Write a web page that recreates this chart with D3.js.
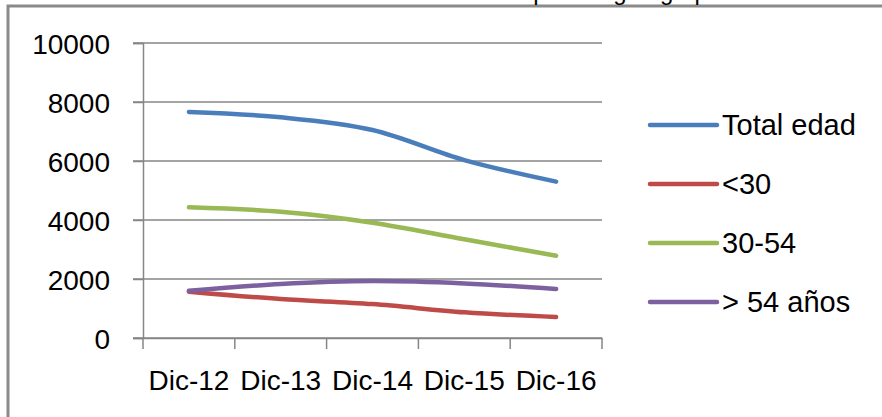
<!DOCTYPE html>
<html>
<head>
<meta charset="utf-8">
<script src="https://cdn.jsdelivr.net/npm/d3@7"></script>
<style>
  html, body { margin: 0; padding: 0; background: #fff; }
  svg { display: block; }
  text { font-family: "Liberation Sans", Arial, sans-serif; fill: #000; }
</style>
</head>
<body>
<svg id="chart" width="882" height="417"></svg>
<script>
const title = "Gráfico 6. Cotizantes medios en paro según grupo de edad";
const categories = ["Dic-12", "Dic-13", "Dic-14", "Dic-15", "Dic-16"];
const seriesNames = ["Total edad", "<30", "30-54", "> 54 años"];
const totalEdad = [7660, 7480, 7050, 6030, 5300];
const menos30 = [1570, 1320, 1150, 870, 710];
const de30a54 = [4430, 4280, 3910, 3345, 2790];
const mas54 = [1600, 1830, 1930, 1850, 1660];
const yTicks = [0, 2000, 4000, 6000, 8000, 10000];
const colors = ["#4a7ebb", "#be4b48", "#98b954", "#7d60a0"];

const series = [totalEdad, menos30, de30a54, mas54].map((vals, i) => ({
  name: seriesNames[i], color: colors[i], values: vals
}));

const svg = d3.select("#chart");

// outer frame
svg.append("rect")
  .attr("x", 8).attr("y", 6).attr("width", 900).attr("height", 430)
  .attr("fill", "none").attr("stroke", "#8a8a8a").attr("stroke-width", 3);

// title, cut at the top edge as in the source image
svg.append("text")
  .attr("x", 185).attr("y", 0)
  .attr("font-size", 24)
  .attr("fill", "#000")
  .text(title);

const x = d3.scaleBand().domain(categories).range([143, 602]).padding(0);
const y = d3.scaleLinear().domain([0, 10000]).range([338, 43]);

const gridColor = "#868686";

// gridlines
svg.append("g").selectAll("line").data(yTicks).join("line")
  .attr("x1", 133).attr("x2", 602)
  .attr("y1", d => y(d)).attr("y2", d => y(d))
  .attr("stroke", gridColor).attr("stroke-width", 1.5);

// y axis
const yAxis = svg.append("g").attr("transform", "translate(143,0)")
  .call(d3.axisLeft(y).tickValues(yTicks).tickSize(10).tickPadding(23).tickFormat(d3.format("d")));
yAxis.select(".domain").attr("stroke", gridColor).attr("stroke-width", 1.5);
yAxis.selectAll(".tick line").attr("stroke", gridColor).attr("stroke-width", 1.5);
yAxis.selectAll("text").attr("font-size", 28).attr("fill", "#000")
  .attr("font-family", "Liberation Sans, Arial, sans-serif").attr("dy", "0.36em");

// x axis
const xAxis = svg.append("g").attr("transform", "translate(0,338)")
  .call(d3.axisBottom(x).tickSize(0).tickPadding(32));
xAxis.select(".domain").attr("stroke", gridColor).attr("stroke-width", 1.5);
xAxis.selectAll("text").attr("font-size", 28).attr("fill", "#000")
  .attr("font-family", "Liberation Sans, Arial, sans-serif").attr("dy", "0.71em");
// tick marks on band boundaries
const bounds = categories.map(c => x(c)).concat([x(categories[categories.length - 1]) + x.bandwidth()]);
xAxis.selectAll(".bound").data(bounds).join("line").attr("class", "bound")
  .attr("x1", d => d).attr("x2", d => d).attr("y1", 0).attr("y2", 11)
  .attr("stroke", gridColor).attr("stroke-width", 1.5);

// lines
const line = d3.line()
  .x((d, i) => x(categories[i]) + x.bandwidth() / 2)
  .y(d => y(d))
  .curve(d3.curveCatmullRom.alpha(0.5));

svg.append("g").selectAll("path").data(series).join("path")
  .attr("d", d => line(d.values))
  .attr("fill", "none")
  .attr("stroke", d => d.color)
  .attr("stroke-width", 4.5)
  .attr("stroke-linecap", "round")
  .attr("stroke-linejoin", "round");

// legend
const legendY = d3.scalePoint().domain(seriesNames).range([125, 302]);
const lg = svg.append("g").selectAll("g").data(series).join("g")
  .attr("transform", d => `translate(650,${legendY(d.name)})`);
lg.append("line").attr("x1", 0).attr("x2", 67).attr("y1", 0).attr("y2", 0)
  .attr("stroke", d => d.color).attr("stroke-width", 4.5).attr("stroke-linecap", "round");
lg.append("text").attr("x", 72).attr("y", 0).attr("dy", "0.36em")
  .attr("font-size", 29).text(d => d.name);
</script>
</body>
</html>
